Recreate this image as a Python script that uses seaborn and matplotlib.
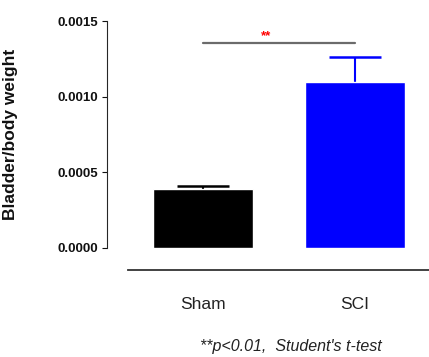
import matplotlib
matplotlib.use("Agg")
import matplotlib.pyplot as plt
import seaborn as sns
import pandas as pd

groups = ["Sham", "SCI"]
means = [0.00039, 0.00110]
sems = [0.00002, 0.00016]
colors = ["#000000", "#0000FF"]
y_ticks = [0.0, 0.0005, 0.0010, 0.0015]
y_tick_labels = ["0.0000", "0.0005", "0.0010", "0.0015"]
y_label = "Bladder/body weight"
sig_text = "**"
sig_y = 0.001355
footnote = "**p<0.01,  Student's t-test"

sns.set_style("ticks")
plt.rcParams["font.family"] = ["Liberation Sans", "DejaVu Sans"]

df = pd.DataFrame({"group": groups, "value": means})
fig = plt.figure(figsize=(4.29, 3.57), dpi=100)
ax = fig.add_axes([128 / 429, 109 / 357, 301 / 429, 227 / 357])
sns.barplot(data=df, x="group", y="value", hue="group", palette=colors,
            width=0.66, legend=False, ax=ax, saturation=1, errorbar=None,
            zorder=2)
for i, (m, s, c) in enumerate(zip(means, sems, colors)):
    _, caps, _ = ax.errorbar([i], [m], yerr=[[0], [s]], color=c, capsize=18.4,
                             elinewidth=1.5, capthick=1.8, zorder=1)
    caps[0].set_visible(False)

sns.despine(ax=ax)
ax.spines["left"].set_position(("outward", 15))
ax.spines["left"].set_bounds(0, 0.0015)
ax.spines["left"].set_linewidth(0.8)
ax.spines["bottom"].set_position(("outward", 16))
ax.spines["bottom"].set_linewidth(1.3)
ax.spines["bottom"].set_color("#333333")

ax.set_xlim(-0.493, 1.487)
ax.set_ylim(0, 0.0015)
ax.tick_params(axis="y", length=3.5, width=0.8, pad=3, colors="#111111",
               labelsize=9.5)
ax.tick_params(axis="x", length=0, pad=19, labelsize=12.5, labelcolor="#222222")
ax.set_yticks(y_ticks, labels=y_tick_labels, fontweight="bold")
ax.set_xlabel("")
ax.set_ylabel(y_label, fontweight="bold", fontsize=12.5, color="#111111")
ax.yaxis.set_label_coords(-0.365, 0.5)

ax.plot([0, 1], [sig_y, sig_y], color="#6b6b6b", lw=1.6, clip_on=False)
ax.text(0.415, sig_y + 0.000008, sig_text, color="red", fontsize=9.5,
        fontweight="bold", ha="center", va="bottom")

fig.text(291 / 429, 10 / 357, footnote, fontsize=11.5, style="italic",
         ha="center", va="center", color="#222222")

fig.savefig("out.png", dpi=100)
